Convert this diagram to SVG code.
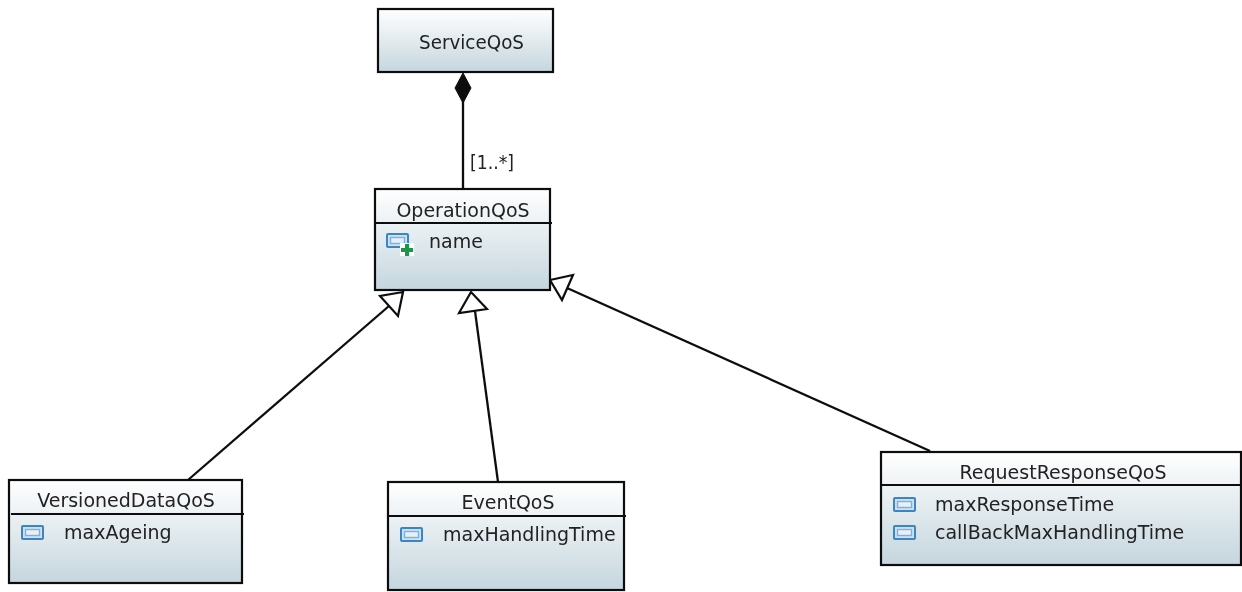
<svg xmlns="http://www.w3.org/2000/svg" width="1242" height="592" viewBox="0 0 1242 592">
<style>
.box{fill:url(#g);stroke:#111;stroke-width:2.2}
.sep{stroke:#111;stroke-width:1.8;fill:none}
.conn{stroke:#111;stroke-width:2.3;fill:none}
.head{fill:#fff;stroke:#111;stroke-width:2.2}
text{font-family:"DejaVu Sans","Open Sans",sans-serif;font-size:19px;fill:#222}
.c{text-anchor:middle}
.ia{fill:#cfe2f3;stroke:#3a85c6;stroke-width:2}
.ib{fill:#e6f0f8;stroke:#7fb0da;stroke-width:1.4}
.plus{fill:#1a9648}
</style>
<defs>
<linearGradient id="g" x1="0" y1="0" x2="0" y2="1"><stop offset="0" stop-color="#ffffff"/><stop offset="1" stop-color="#c5d6de"/></linearGradient>
<filter id="soft" filterUnits="userSpaceOnUse" x="0" y="0" width="1242" height="592"><feGaussianBlur stdDeviation="0.4"/></filter>
<g id="attr"><rect class="ia" x="1" y="1" width="21" height="13" rx="1"/><rect class="ib" x="4.500" y="4.500" width="14" height="6"/></g>
</defs>
<rect width="1242" height="592" fill="#fff"/>
<g filter="url(#soft)">
<g id="connectors">
<path class="conn" d="M463 100V188"/>
<path d="M463 73L471 88L463 103L455 88Z" fill="#111" stroke="#111"/>
<path class="conn" d="M188 480L389 306"/>
<path class="head" d="M403 292L380 296L398 316Z"/>
<path class="conn" d="M498 482L475 311"/>
<path class="head" d="M471 292L459 313L487 309Z"/>
<path class="conn" d="M930 451L567 288"/>
<path class="head" d="M550 280L573 275L562 300Z"/>
<text x="470" y="169" textLength="44" lengthAdjust="spacingAndGlyphs">[1..*]</text>
</g>
<g id="ServiceQoS">
<rect class="box" x="378" y="9" width="175" height="63"/>
<text x="419" y="49" textLength="105" lengthAdjust="spacingAndGlyphs">ServiceQoS</text>
</g>
<g id="OperationQoS">
<rect class="box" x="375" y="189" width="175" height="101"/>
<path class="sep" d="M375 223H552"/>
<text class="c" x="463" y="217">OperationQoS</text>
<use href="#attr" x="386" y="233"/>
<rect x="400" y="243" width="14" height="13" fill="#fff"/>
<path class="plus" d="M405 244h4v4h4v4h-4v4h-4v-4h-4v-4h4z"/>
<text x="429" y="248">name</text>
</g>
<g id="VersionedDataQoS">
<rect class="box" x="9" y="480" width="233" height="103"/>
<path class="sep" d="M11 514H244"/>
<text class="c" x="126" y="507">VersionedDataQoS</text>
<use href="#attr" x="21" y="525"/>
<text x="64" y="539">maxAgeing</text>
</g>
<g id="EventQoS">
<rect class="box" x="388" y="482" width="236" height="108"/>
<path class="sep" d="M388 516H626"/>
<text class="c" x="508" y="509">EventQoS</text>
<use href="#attr" x="400" y="527"/>
<text x="443" y="541">maxHandlingTime</text>
</g>
<g id="RequestResponseQoS">
<rect class="box" x="881" y="452" width="360" height="113"/>
<path class="sep" d="M881 485H1241"/>
<text class="c" x="1063" y="479">RequestResponseQoS</text>
<use href="#attr" x="893" y="497"/>
<text x="935" y="511">maxResponseTime</text>
<use href="#attr" x="893" y="525"/>
<text x="935" y="539">callBackMaxHandlingTime</text>
</g>
</g>
</svg>
